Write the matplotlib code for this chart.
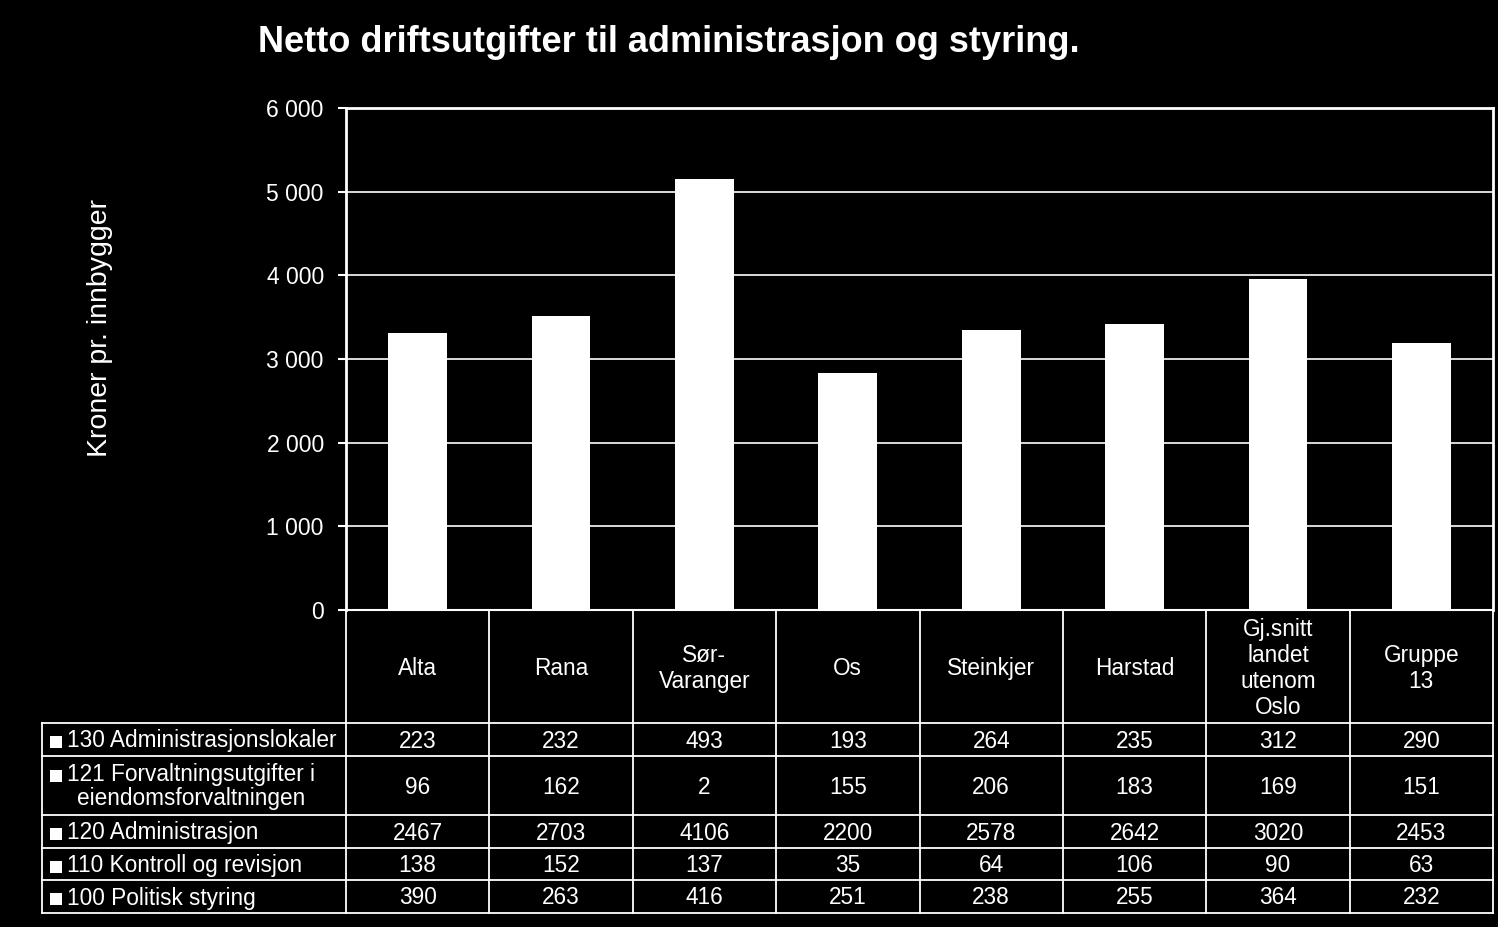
import matplotlib
matplotlib.use("Agg")
import matplotlib.pyplot as plt
from matplotlib.transforms import blended_transform_factory
from matplotlib.ticker import FuncFormatter
import numpy as np

plt.rcParams['font.family'] = ['Liberation Sans', 'DejaVu Sans']

categories = ["Alta", "Rana", "Sør-\nVaranger", "Os", "Steinkjer", "Harstad",
              "Gj.snitt\nlandet\nutenom\nOslo", "Gruppe\n13"]
series_names = ["130 Administrasjonslokaler",
                "121 Forvaltningsutgifter i\neiendomsforvaltningen",
                "120 Administrasjon",
                "110 Kontroll og revisjon",
                "100 Politisk styring"]
s130 = [223, 232, 493, 193, 264, 235, 312, 290]
s121 = [96, 162, 2, 155, 206, 183, 169, 151]
s120 = [2467, 2703, 4106, 2200, 2578, 2642, 3020, 2453]
s110 = [138, 152, 137, 35, 64, 106, 90, 63]
s100 = [390, 263, 416, 251, 238, 255, 364, 232]
table_rows = [s130, s121, s120, s110, s100]
yticks = [0, 1000, 2000, 3000, 4000, 5000, 6000]

W, H = 1498, 927
fig = plt.figure(figsize=(W / 100, H / 100), dpi=100, facecolor='black')
ax_l, ax_r, ax_t, ax_b = 346, 1493, 108, 610
ax = fig.add_axes([ax_l / W, 1 - ax_b / H, (ax_r - ax_l) / W, (ax_b - ax_t) / H])
ax.set_facecolor('black')

x = np.arange(len(categories))
bottom = np.zeros(len(categories))
for vals in [s100, s110, s120, s121, s130]:
    ax.bar(x, vals, width=0.41, bottom=bottom, color='white', edgecolor='none', zorder=3)
    bottom += np.array(vals)

ax.set_xlim(-0.5, len(categories) - 0.5)
ax.set_ylim(0, 6000)
ax.set_yticks(yticks)
ax.yaxis.set_major_formatter(FuncFormatter(lambda v, p: f"{int(v):,}".replace(",", " ")))
ax.set_xticks([])
ax.tick_params(axis='y', colors='white', labelcolor='white', labelsize=16.5,
               direction='out', length=6, width=1.5, pad=10)
ax.grid(axis='y', color='white', linewidth=1.2, zorder=0)
for side, sp in ax.spines.items():
    sp.set_color('white')
    sp.set_linewidth(2)
ax.spines['bottom'].set_linewidth(1.5)

pw = ax_r - ax_l
ph = ax_b - ax_t
def yf(py):
    return (ax_b - py) / ph
def xf(px):
    return (px - ax_l) / pw

ax.set_ylabel("Kroner pr. innbygger", color='white', fontsize=20.5, labelpad=0)
ax.yaxis.set_label_coords(xf(100), yf(328))
ax.yaxis.label.set_va('center')

fig.text(258 / W, 1 - 43 / H, "Netto driftsutgifter til administrasjon og styring.",
         color='white', fontsize=26, fontweight='bold', va='center', ha='left')

# Table below the axes
row_edges_px = [610, 723, 756, 815, 848, 880, 913]
row_edges = [yf(p) for p in row_edges_px]
label_left = xf(42)
tr = blended_transform_factory(ax.transData, ax.transAxes)
lw = 1.3
fs = 16.3
for i in range(len(categories) + 1):
    ax.plot([i - 0.5, i - 0.5], [row_edges[0], row_edges[-1]], color='white',
            lw=lw, transform=tr, clip_on=False)
for ye in row_edges[1:]:
    ax.plot([label_left, 1], [ye, ye], color='white', lw=lw,
            transform=ax.transAxes, clip_on=False)
ax.plot([label_left, label_left], [row_edges[1], row_edges[-1]], color='white',
        lw=lw, transform=ax.transAxes, clip_on=False)

# header
hy = (row_edges[0] + row_edges[1]) / 2 - 2 / ph
for i, c in enumerate(categories):
    ax.text(i, hy, c, transform=tr, color='white', fontsize=fs, ha='center',
            va='center', multialignment='center', linespacing=1.16)

# rows
for r, (name, vals) in enumerate(zip(series_names, table_rows)):
    cy = (row_edges[r + 1] + row_edges[r + 2]) / 2 - 1.5 / ph
    for i, v in enumerate(vals):
        ax.text(i, cy, str(v), transform=tr, color='white', fontsize=fs,
                ha='center', va='center')
    lx = xf(67)
    sx = xf(56)
    if "\n" in name:
        first, second = name.split("\n")
        ax.text(lx, cy + 12 / ph, first, transform=ax.transAxes, color='white',
                fontsize=fs, ha='left', va='center')
        ax.text(xf(77), cy - 12 / ph, second, transform=ax.transAxes,
                color='white', fontsize=fs, ha='left', va='center')
        sy = cy + 11 / ph
    else:
        ax.text(lx, cy, name, transform=ax.transAxes, color='white', fontsize=fs,
                ha='left', va='center')
        sy = cy - 1 / ph
    ax.plot([sx], [sy], marker='s', markersize=9, color='white',
            markeredgewidth=0, transform=ax.transAxes, clip_on=False)

fig.savefig("out.png", dpi=100, facecolor='black')
